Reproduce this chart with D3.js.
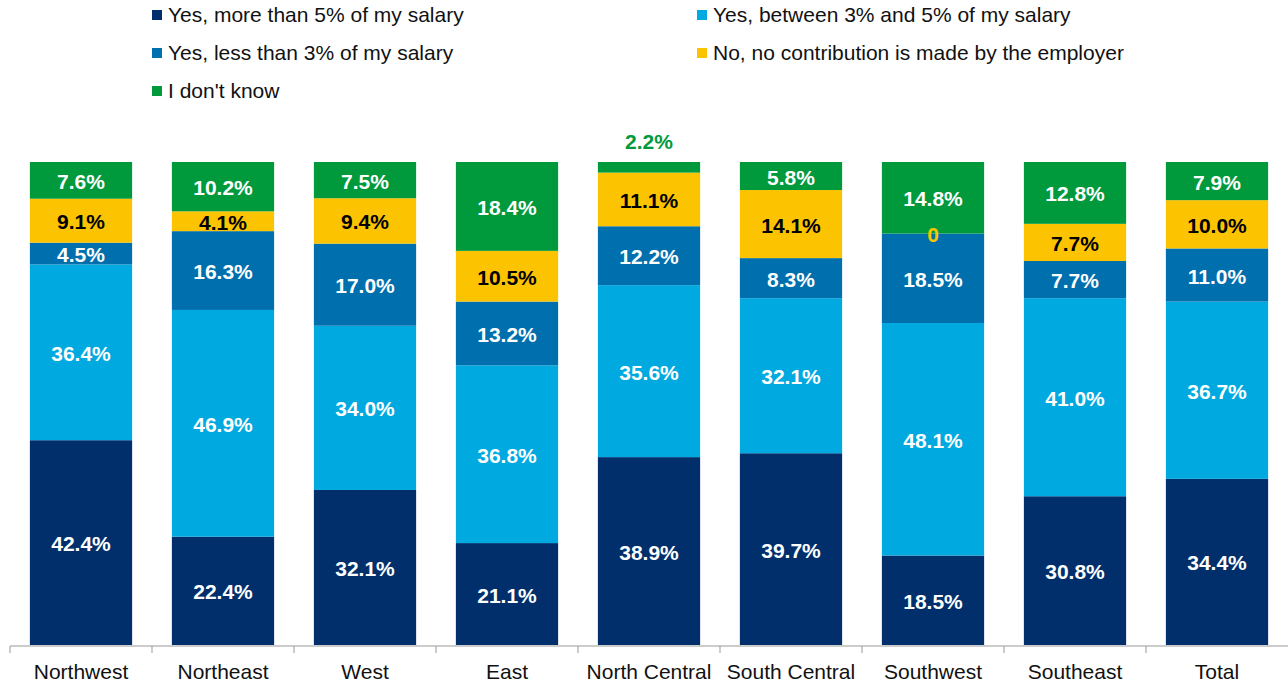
<!DOCTYPE html>
<html>
<head>
    <meta charset="utf-8">
    <title>Employer contribution by region</title>
    <style>
        body {
            margin: 0;
            background-color: #fff;
            font-family: "Liberation Sans", Arial, sans-serif;
        }
        .legend text {
            font-size: 21px;
            fill: #111;
            dominant-baseline: middle;
        }
        .label {
            font-size: 21px;
            font-weight: bold;
            text-anchor: middle;
            dominant-baseline: central;
        }
        .axis path, .axis line {
            stroke: #999;
        }
        .axis text {
            font-size: 21px;
            fill: #111;
        }
    </style>
</head>
<body>
<svg id="chart" width="1288" height="686"></svg>
<script src="https://d3js.org/d3.v7.min.js"></script>
<script>
    const regions = ["Northwest", "Northeast", "West", "East", "North Central",
                     "South Central", "Southwest", "Southeast", "Total"];
    const series = ["Yes, more than 5% of my salary", "Yes, between 3% and 5% of my salary",
                    "Yes, less than 3% of my salary", "No, no contribution is made by the employer",
                    "I don't know"];
    const moreThan5 = [42.4, 22.4, 32.1, 21.1, 38.9, 39.7, 18.5, 30.8, 34.4];
    const between3and5 = [36.4, 46.9, 34.0, 36.8, 35.6, 32.1, 48.1, 41.0, 36.7];
    const lessThan3 = [4.5, 16.3, 17.0, 13.2, 12.2, 8.3, 18.5, 7.7, 11.0];
    const noContribution = [9.1, 4.1, 9.4, 10.5, 11.1, 14.1, 0, 7.7, 10.0];
    const dontKnow = [7.6, 10.2, 7.5, 18.4, 2.2, 5.8, 14.8, 12.8, 7.9];

    const colors = ["#002f6c", "#00a9e0", "#006fae", "#fcc400", "#009a3d"];
    const labelColors = ["#fff", "#fff", "#fff", "#000", "#fff"];

    const values = [moreThan5, between3and5, lessThan3, noContribution, dontKnow];
    // stacked to 100%: normalise each region by its own total
    const rows = regions.map((r, i) => {
        const row = { region: r };
        const sum = d3.sum(values, v => v[i]);
        series.forEach((s, k) => { row[s] = values[k][i] / sum; row["raw" + k] = values[k][i]; });
        return row;
    });

    const svg = d3.select('svg#chart');
    const x = d3.scaleBand().domain(regions).range([10, 1288]).paddingInner(0.28).paddingOuter(0.14);
    const y = d3.scaleLinear().domain([0, 1]).range([645, 162]);

    const stack = d3.stack().keys(series)(rows);

    // bars
    const layers = svg.selectAll('g.layer').data(stack).join('g')
        .attr('class', 'layer')
        .attr('fill', (d, k) => colors[k]);
    layers.selectAll('rect').data(d => d).join('rect')
        .attr('x', d => x(d.data.region))
        .attr('width', x.bandwidth())
        .attr('y', d => y(d[1]))
        .attr('height', d => y(d[0]) - y(d[1]));

    // labels (tiny segments get their label above the bar, in the segment colour)
    stack.forEach((layer, k) => {
        svg.append('g').selectAll('text').data(layer).join('text')
            .attr('class', 'label')
            .attr('x', d => x(d.data.region) + x.bandwidth() / 2)
            .attr('y', d => {
                const h = y(d[0]) - y(d[1]);
                if (h > 0 && h < 15) return y(d[1]) - 21;
                return (y(d[0]) + y(d[1])) / 2 + 1;
            })
            .attr('fill', d => {
                const h = y(d[0]) - y(d[1]);
                if (h < 15) return colors[k];
                return labelColors[k];
            })
            .text(d => {
                const v = d.data["raw" + k];
                return v === 0 ? "0" : v.toFixed(1) + "%";
            });
    });

    // axis with ticks at band boundaries
    const axisY = 646;
    const axis = svg.append('g').attr('class', 'axis');
    axis.append('line')
        .attr('x1', 10).attr('x2', 1288).attr('y1', axisY).attr('y2', axisY);
    const gap = (x.step() - x.bandwidth()) / 2;
    axis.selectAll('line.tick').data(regions).join('line')
        .attr('class', 'tick')
        .attr('x1', d => x(d) - gap)
        .attr('x2', d => x(d) - gap)
        .attr('y1', axisY).attr('y2', axisY + 7);
    axis.selectAll('text').data(regions).join('text')
        .attr('x', d => x(d) + x.bandwidth() / 2)
        .attr('y', 679)
        .attr('text-anchor', 'middle')
        .text(d => d);

    // legend
    const legendPos = [[152, 15], [697, 15], [152, 53], [697, 53], [152, 91]];
    const legend = svg.append('g').attr('class', 'legend');
    series.forEach((s, k) => {
        const [lx, ly] = legendPos[k];
        legend.append('rect')
            .attr('x', lx).attr('y', ly - 5).attr('width', 10).attr('height', 10)
            .attr('fill', colors[k]);
        legend.append('text')
            .attr('x', lx + 16).attr('y', ly + 1)
            .text(s);
    });
</script>
</body>
</html>
